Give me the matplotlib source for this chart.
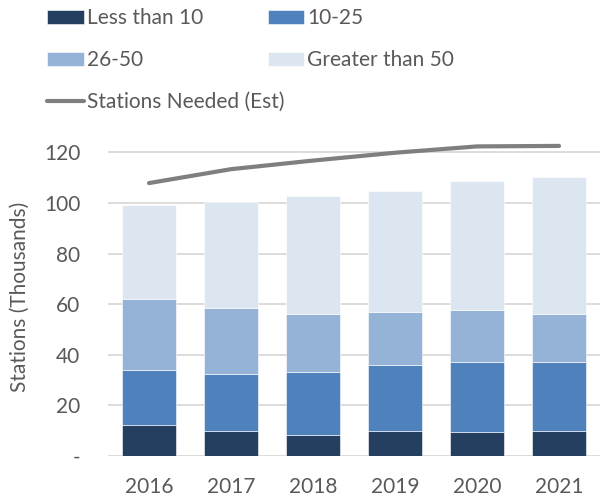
import numpy as np
import matplotlib
matplotlib.use("Agg")
import matplotlib.pyplot as plt

years = ["2016", "2017", "2018", "2019", "2020", "2021"]
less_10 = [12.1, 10.0, 8.2, 10.0, 9.6, 10.0]
from_10_25 = [22.0, 22.6, 25.2, 26.0, 27.7, 27.3]
from_26_50 = [28.1, 26.1, 22.8, 21.0, 20.5, 18.7]
greater_50 = [37.2, 41.8, 46.6, 47.8, 51.1, 54.4]
needed = [107.9, 113.4, 116.8, 119.9, 122.4, 122.6]

grey = "#595959"
plt.rcParams["font.family"] = ["Lato", "DejaVu Sans"]

fig = plt.figure(figsize=(6.0, 4.98), dpi=100)
ax = fig.add_axes([0.18, 0.0843, 0.82, 0.64])

x = np.arange(len(years))
w = 0.67
series = [("Less than 10", less_10, "#243F60"),
          ("10-25", from_10_25, "#4F81BD"),
          ("26-50", from_26_50, "#95B3D7"),
          ("Greater than 50", greater_50, "#DCE6F1")]
bottom = np.zeros(len(years))
handles = {}
for name, vals, col in series:
    b = ax.bar(x, vals, w, bottom=bottom, color=col, label=name,
               edgecolor="white", linewidth=0.4, zorder=2)
    handles[name] = b
    bottom += np.array(vals)

ln, = ax.plot(x, needed, color="#7F7F7F", lw=3, solid_capstyle="round",
              label="Stations Needed (Est)", zorder=3, clip_on=False)

ax.set_xlim(-0.5, len(years) - 0.5)
ax.set_ylim(0, 126)
ax.set_yticks(range(0, 121, 20))
ax.set_yticklabels(["-"] + [str(v) for v in range(20, 121, 20)])
ax.set_xticks(x)
ax.set_xticklabels(years)
ax.grid(axis="y", color="#D9D9D9", lw=1.3, zorder=0)
ax.set_axisbelow(True)
for s in ax.spines.values():
    s.set_visible(False)
ax.tick_params(length=0, labelsize=15, colors=grey, pad=15)
ax.tick_params(axis="y", pad=20)
ax.set_ylabel("Stations (Thousands)", fontsize=15, color=grey, labelpad=10)

# legend: two columns, line entry sits alone in the third row
order = [handles["Less than 10"], handles["26-50"], ln,
         handles["10-25"], handles["Greater than 50"]]
leg = fig.legend(order, [h.get_label() for h in order], ncol=2,
                 loc="upper left", bbox_to_anchor=(0.065, 1.0),
                 frameon=False, fontsize=15, handlelength=1.75,
                 handleheight=0.65, handletextpad=0.15, columnspacing=-0.8,
                 labelspacing=1.05, borderaxespad=0.0)
for t in leg.get_texts():
    t.set_color(grey)

fig.savefig("out.png", dpi=100)
